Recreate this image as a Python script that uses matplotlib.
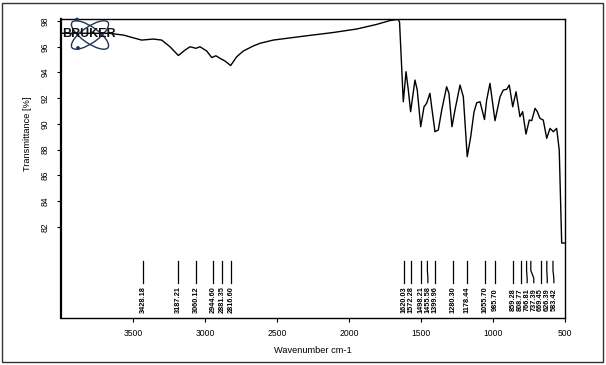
import numpy as np
import matplotlib
matplotlib.use("Agg")
import matplotlib.pyplot as plt
from matplotlib.patches import Ellipse, Rectangle, Circle

plt.rcParams['font.family'] = ['Liberation Sans', 'DejaVu Sans']

# spectrum (wavenumber cm-1, transmittance %)
wavenumber = [4000, 3800, 3660, 3567, 3440, 3359, 3301, 3243, 3185, 3139, 3104,
              3063, 3035, 2988, 2953, 2924, 2896, 2861, 2822, 2780, 2734, 2665,
              2618, 2526, 2340, 2109, 1947, 1808, 1715, 1667, 1656,
              1649, 1623, 1604, 1588, 1572, 1542, 1526, 1502, 1479, 1461, 1438,
              1426, 1403, 1380, 1356, 1322, 1306, 1285, 1264, 1229, 1206, 1179,
              1155, 1132, 1113, 1090, 1059, 1044, 1021, 986, 951, 929, 905, 887,
              863, 840, 813, 794, 771, 748, 731, 708, 692, 674, 651, 627, 604,
              581, 558, 540, 523, 500]
transmittance = [97.05, 97.05, 97.04, 96.91, 96.52, 96.60, 96.52, 96.00, 95.32, 95.74, 96.00,
                 95.88, 96.00, 95.67, 95.16, 95.30, 95.10, 94.89, 94.54, 95.22, 95.67, 96.06,
                 96.27, 96.52, 96.79, 97.11, 97.38, 97.74, 98.04, 98.12, 98.08,
                 97.92, 91.72, 94.06, 92.63, 90.95, 93.41, 92.63, 89.78, 91.33, 91.60, 92.38,
                 91.33, 89.39, 89.52, 91.08, 92.89, 92.38, 89.78, 91.08, 93.02, 92.11, 87.45,
                 88.98, 90.92, 91.65, 91.72, 90.34, 91.86, 93.15, 90.25, 92.11, 92.63, 92.69, 93.02,
                 91.33, 92.50, 90.56, 90.95, 89.21, 90.30, 90.25, 91.21, 90.95, 90.43, 90.30, 88.88, 89.65,
                 89.39, 89.65, 87.97, 80.73, 80.73]

# peak picks
peaks = [3428.18, 3187.21, 3060.12, 2944.60, 2881.35, 2816.60,
         1620.03, 1572.28, 1498.21, 1455.58, 1399.96, 1280.30, 1178.44,
         1055.70, 985.70, 859.28, 808.77, 766.81, 737.39, 669.45, 626.39, 583.42]

yticks = [82, 84, 86, 88, 90, 92, 94, 96, 98]
xticks = [3500, 3000, 2500, 2000, 1500, 1000, 500]

W, H = 606, 365
fig = plt.figure(figsize=(W / 100, H / 100), dpi=100)
ax = fig.add_axes([61 / W, 1 - 318 / H, 504 / W, 299 / H])

ax.plot(wavenumber, transmittance, color="black", lw=1.0)
ax.set_xlim(4000, 500)
ax.set_ylim(74.9, 98.16)
ax.set_xticks(xticks)
ax.set_yticks(yticks)
ax.tick_params(direction="out", length=3, width=0.8, labelsize=6.2, pad=5)
for lab in ax.get_yticklabels():
    lab.set_rotation(90)
    lab.set_va("center")
for side in ["top", "right", "bottom"]:
    ax.spines[side].set_linewidth(1.0)
ax.spines["left"].set_linewidth(1.6)

ax.set_xlabel("Wavenumber cm-1", fontsize=6.7)
ax.xaxis.set_label_coords(0.5, -0.094)
ax.set_ylabel("Transmittance [%]", fontsize=6.7)
ax.yaxis.set_label_coords(-0.058, 0.615)

# peak labels: spread out so they don't overlap, lines bend toward them
spacing = 46
lab_pos = []
for p in peaks:
    if lab_pos and lab_pos[-1] - p < spacing:
        lab_pos.append(lab_pos[-1] - spacing)
    else:
        lab_pos.append(p)
for p, lp in zip(peaks, lab_pos):
    ax.plot([p, p, lp, lp], [79.3, 78.6, 78.0, 77.65], color="black", lw=0.9)
    ax.text(lp, 76.3, f"{p:.2f}", rotation=90, ha="center", va="center",
            fontsize=5.3, fontweight="bold")

# Bruker logo
lax = fig.add_axes([58 / W, 1 - 54 / H, 66 / W, 38 / H])
lax.set_xlim(0, 66)
lax.set_ylim(38, 0)
lax.set_aspect("equal")
lax.axis("off")
navy = "#1d3557"
for ang in (35, -35):
    lax.add_patch(Ellipse((32, 19), 44, 16, angle=ang, fill=False, ec=navy, lw=1.0))
lax.add_patch(Circle((19, 3.5), 1.2, color=navy))
lax.add_patch(Circle((20, 32), 1.2, color=navy))
lax.text(31, 18, "BRUKER", fontsize=9, fontweight="bold", ha="center", va="center",
         color="#111111")

# outer frame
fig.add_artist(Rectangle((2 / W, 3 / H), 601 / W, 359 / H, transform=fig.transFigure,
                         fill=False, ec="#333333", lw=1.0))

fig.savefig("out.png", dpi=100)
